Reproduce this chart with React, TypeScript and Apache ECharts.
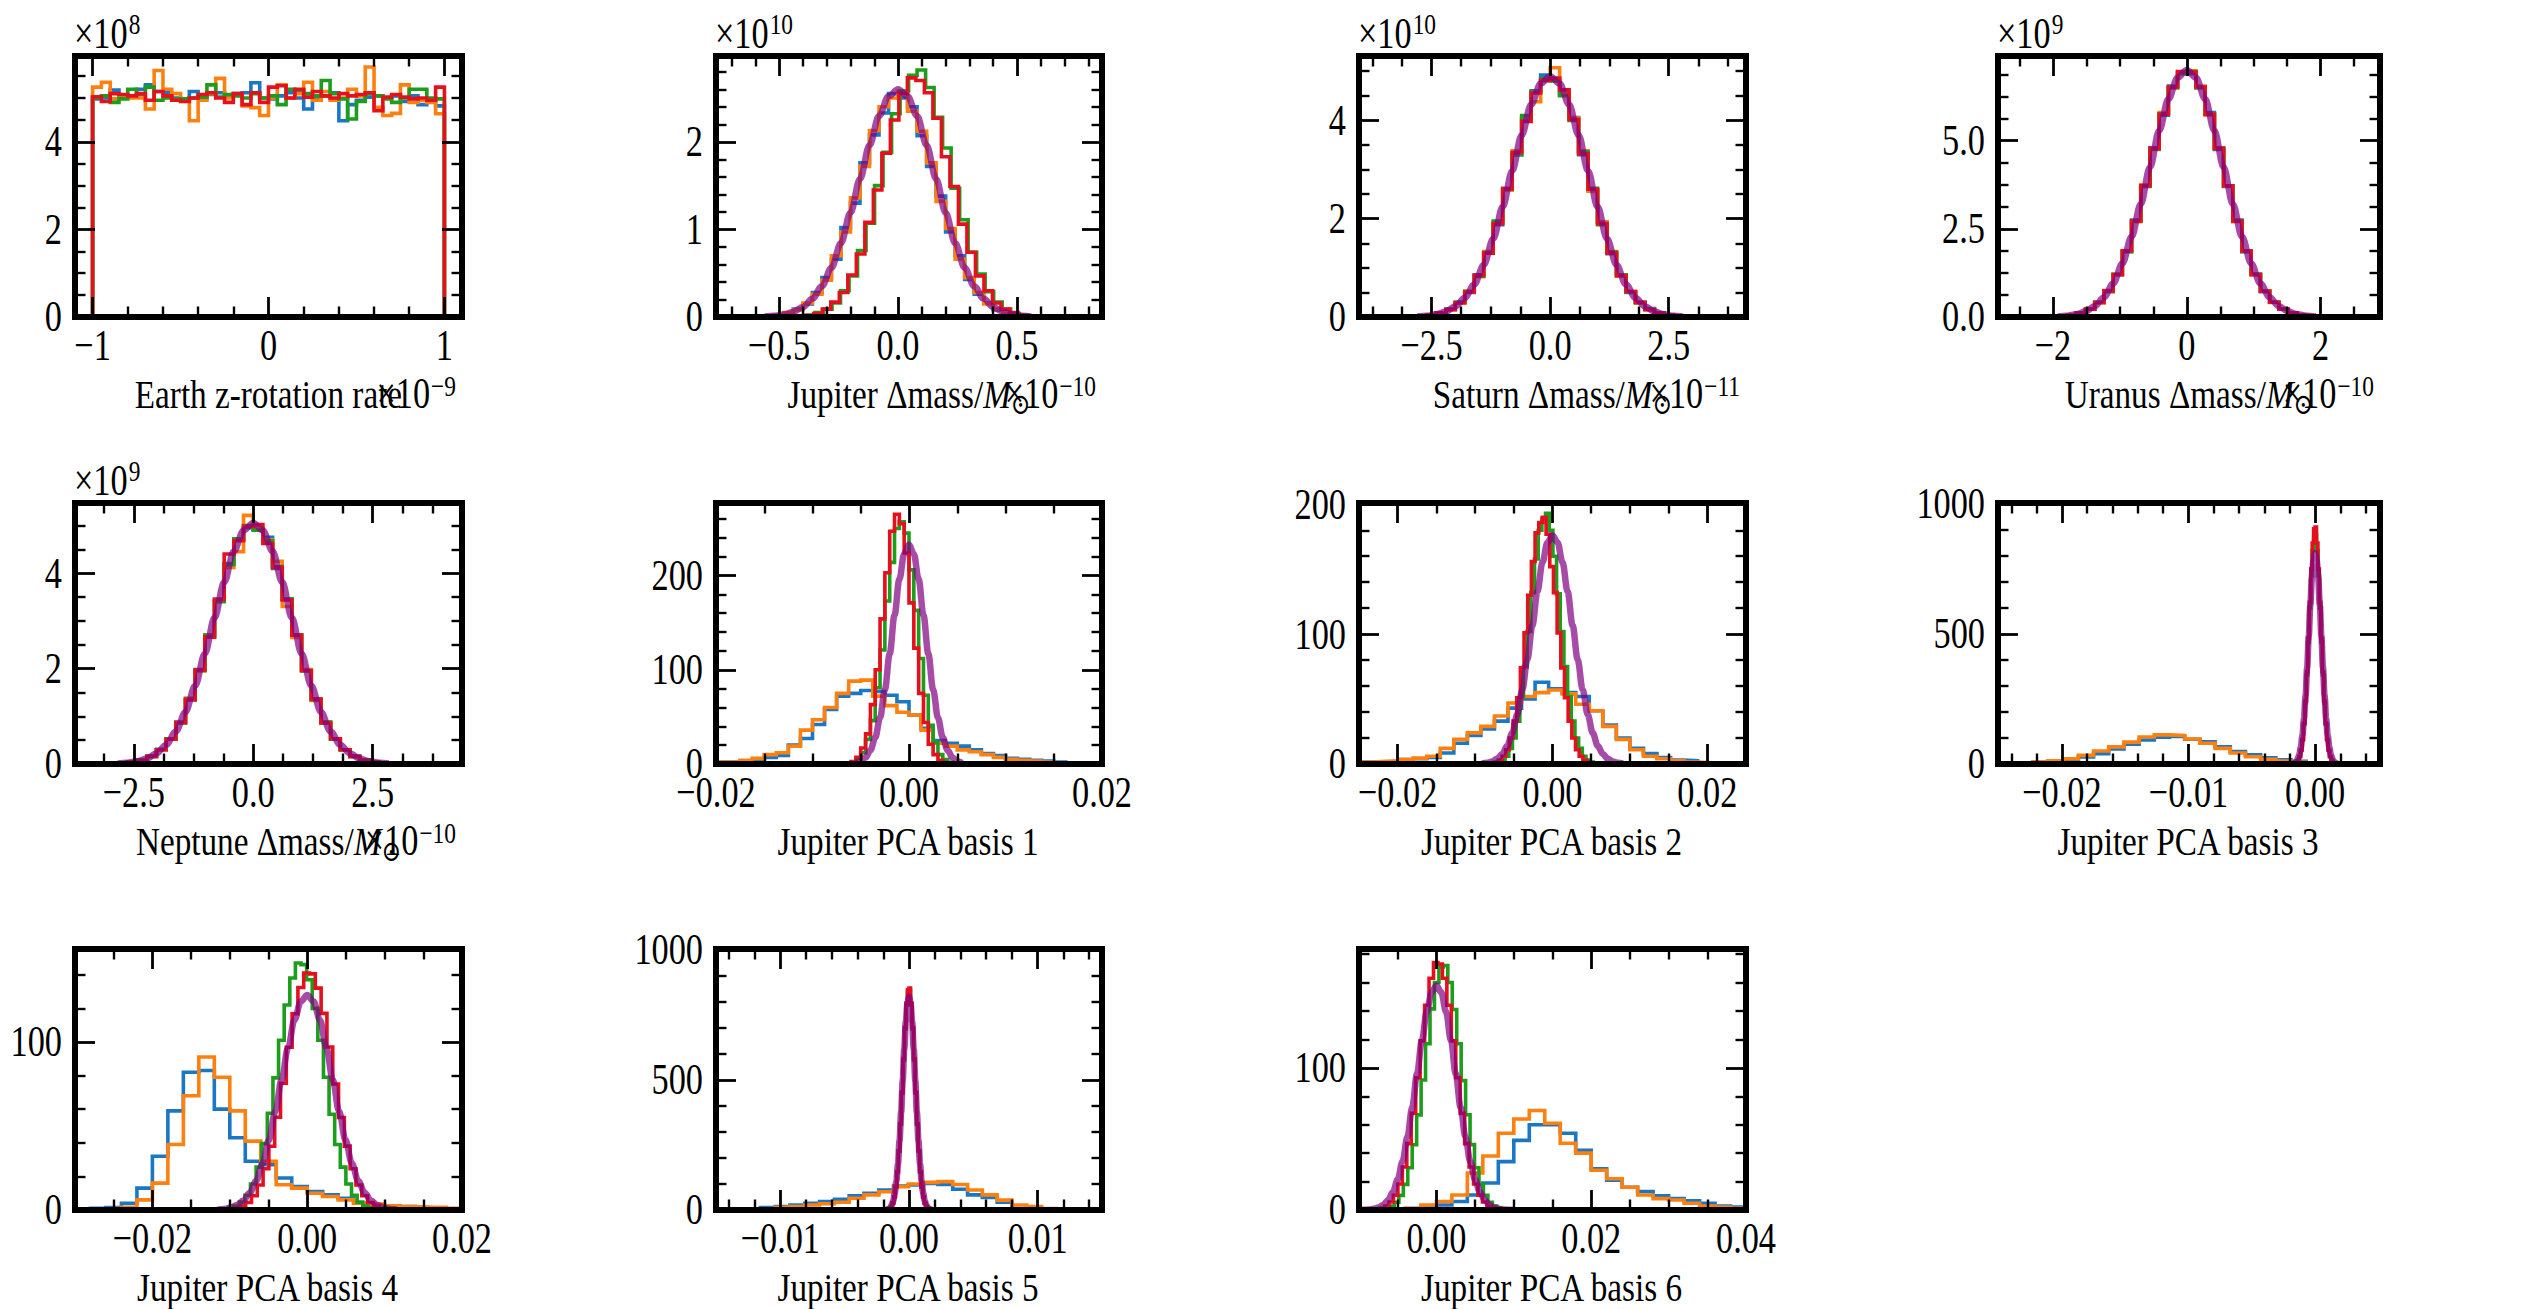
import React, { useEffect, useRef } from 'react';
import * as echarts from 'echarts';

// ---------------- DATA ----------------
// Bin starts / widths per series: [blue, orange, green, red]
// Panel 1: Earth z-rotation rate (x in 1e-9, y in 1e8)
const P1_START = [-1, -1, -1, -1];
const P1_BINW = [0.05, 0.05, 0.05, 0.05];
const P1_BLUE = [4.98,5.0,5.18,5.05,5.02,5.2,5.3,5.15,5.12,5.0,4.98,5.15,5.0,5.08,5.12,5.05,5.1,5.12,5.35,5.0,4.98,5.05,5.12,5.0,4.75,5.02,5.05,5.12,4.48,4.85,4.95,5.02,5.05,5.0,5.05,4.92,5.05,4.85,4.95,4.82];
const P1_ORANGE = [5.25,5.36,4.98,5.05,5.0,5.0,4.75,5.63,5.2,5.1,4.98,4.48,4.95,5.1,5.45,5.0,5.08,4.82,4.78,4.6,5.0,5.3,5.0,5.1,5.36,4.95,5.15,4.95,5.0,5.2,5.05,5.71,4.79,4.6,4.65,5.3,4.9,4.95,4.9,4.64];
const P1_GREEN = [5.0,5.05,4.9,4.98,5.2,5.08,5.25,4.95,5.0,4.98,4.98,5.0,5.02,5.3,5.02,5.08,5.05,5.0,5.1,5.0,5.05,4.85,5.2,5.18,5.1,5.05,5.4,5.1,4.98,4.52,4.92,5.1,5.05,4.98,4.9,5.0,5.2,5.2,5.0,4.98];
const P1_RED = [5.03,4.92,5.1,5.08,5.05,5.1,4.95,5.15,5.05,4.95,4.92,5.0,5.08,5.12,5.0,4.9,5.1,4.85,5.12,4.9,5.25,5.28,5.0,5.2,5.02,5.15,5.05,5.0,5.1,5.05,5.08,5.12,4.71,5.02,5.08,5.02,4.98,5.0,4.95,5.25];

// Panel 2: Jupiter Δmass (x 1e-10, y 1e10)
const P2_START = [-0.56, -0.56, -0.4205, -0.4255];
const P2_BINW = [0.04, 0.04, 0.03575, 0.03575];
const P2_BLUE = [0.01,0.02,0.04,0.09,0.15,0.28,0.45,0.66,1.02,1.30,1.76,2.08,2.33,2.55,2.50,2.40,2.07,1.72,1.38,0.97,0.70,0.43,0.26,0.16,0.08,0.04,0.02,0.01];
const P2_ORANGE = [0.01,0.02,0.05,0.08,0.16,0.26,0.42,0.70,0.97,1.36,1.72,2.13,2.40,2.50,2.58,2.35,2.12,1.76,1.32,1.01,0.66,0.45,0.28,0.15,0.09,0.04,0.02,0.01];
const P2_GREEN = [0.01,0.02,0.05,0.09,0.16,0.30,0.47,0.76,1.07,1.50,1.88,2.32,2.58,2.76,2.82,2.62,2.28,1.93,1.47,1.11,0.74,0.49,0.29,0.17,0.09,0.04,0.02,0.01];
const P2_RED = [0.01,0.02,0.04,0.09,0.17,0.28,0.48,0.72,1.08,1.45,1.87,2.25,2.55,2.73,2.70,2.56,2.27,1.83,1.49,1.06,0.74,0.47,0.30,0.16,0.09,0.05,0.02,0.01];
const P2_FIT_X = [-0.56, 0.04];
const P2_FIT = [0.0057,0.0133,0.0289,0.0593,0.114,0.207,0.352,0.562,0.844,1.19,1.577,1.962,2.295,2.52,2.6,2.52,2.295,1.962,1.577,1.19,0.844,0.562,0.352,0.207,0.114,0.0593,0.0289,0.0133,0.0057];

// Panel 3: Saturn Δmass (x 1e-11, y 1e10)
const P3_START = [-2.8, -2.8, -2.8, -2.8];
const P3_BINW = [0.2, 0.2, 0.2, 0.2];
const P3_BLUE = [0.02,0.04,0.07,0.16,0.30,0.50,0.86,1.30,1.88,2.62,3.30,4.05,4.60,4.92,4.85,4.52,4.06,3.30,2.58,1.93,1.29,0.86,0.50,0.30,0.17,0.08,0.04,0.02];
const P3_ORANGE = [0.02,0.03,0.08,0.15,0.28,0.53,0.82,1.33,1.93,2.58,3.38,4.08,4.38,4.80,5.07,4.55,4.05,3.38,2.56,1.93,1.33,0.83,0.52,0.28,0.15,0.08,0.04,0.02];
const P3_GREEN = [0.02,0.04,0.08,0.16,0.30,0.52,0.83,1.31,1.95,2.60,3.30,4.10,4.58,4.85,4.80,4.50,4.00,3.36,2.62,1.88,1.32,0.86,0.51,0.29,0.16,0.08,0.04,0.02];
const P3_RED = [0.02,0.04,0.08,0.15,0.29,0.51,0.85,1.30,1.90,2.61,3.35,3.98,4.56,4.82,4.86,4.62,4.02,3.32,2.60,1.90,1.30,0.84,0.52,0.30,0.15,0.08,0.04,0.02];
const P3_FIT_X = [-2.8, 0.2];
const P3_FIT = [0.011,0.025,0.054,0.112,0.215,0.39,0.663,1.06,1.591,2.243,2.972,3.699,4.324,4.749,4.9,4.749,4.324,3.699,2.972,2.243,1.591,1.06,0.663,0.39,0.215,0.112,0.054,0.025,0.011];

// Panel 4: Uranus Δmass (x 1e-10, y 1e9)
const P4_START = [-1.925, -1.925, -1.925, -1.925];
const P4_BINW = [0.1375, 0.1375, 0.1375, 0.1375];
const P4_BLUE = [0.02,0.05,0.11,0.22,0.42,0.75,1.20,1.85,2.75,3.70,4.80,5.72,6.55,6.95,6.90,6.50,5.80,4.75,3.70,2.75,1.85,1.22,0.72,0.42,0.23,0.11,0.05,0.02];
const P4_ORANGE = [0.02,0.06,0.11,0.23,0.40,0.73,1.22,1.88,2.70,3.75,4.75,5.80,6.50,6.92,6.98,6.55,5.72,4.80,3.72,2.70,1.88,1.20,0.74,0.41,0.22,0.11,0.05,0.02];
const P4_GREEN = [0.03,0.05,0.12,0.22,0.42,0.72,1.21,1.86,2.72,3.72,4.76,5.76,6.50,6.90,6.96,6.50,5.76,4.78,3.72,2.72,1.86,1.21,0.73,0.42,0.22,0.11,0.05,0.03];
const P4_RED = [0.02,0.05,0.11,0.22,0.41,0.74,1.20,1.88,2.72,3.72,4.78,5.75,6.52,6.96,6.94,6.52,5.75,4.78,3.72,2.72,1.87,1.20,0.73,0.42,0.22,0.11,0.05,0.02];
const P4_FIT_X = [-1.925, 0.1375];
const P4_FIT = [0.015,0.036,0.078,0.16,0.307,0.557,0.947,1.514,2.273,3.205,4.246,5.284,6.178,6.784,7.0,6.784,6.178,5.284,4.246,3.205,2.273,1.514,0.947,0.557,0.307,0.16,0.078,0.036,0.015];

// Panel 5: Neptune Δmass (x 1e-10, y 1e9)
const P5_START = [-2.835, -2.835, -2.835, -2.835];
const P5_BINW = [0.2025, 0.2025, 0.2025, 0.2025];
const P5_BLUE = [0.02,0.04,0.08,0.16,0.30,0.52,0.88,1.34,1.98,2.66,3.45,4.20,4.70,4.95,4.92,4.75,4.10,3.45,2.70,1.96,1.36,0.86,0.52,0.30,0.16,0.08,0.04,0.02];
const P5_ORANGE = [0.02,0.04,0.08,0.17,0.30,0.53,0.86,1.38,1.95,2.70,3.42,4.12,4.45,5.21,4.95,4.70,4.25,3.30,2.65,1.98,1.33,0.88,0.53,0.30,0.16,0.08,0.04,0.02];
const P5_GREEN = [0.02,0.04,0.08,0.16,0.31,0.53,0.86,1.36,1.96,2.70,3.40,4.18,4.72,5.00,4.90,4.68,4.14,3.46,2.70,1.95,1.35,0.88,0.52,0.30,0.16,0.08,0.04,0.02];
const P5_RED = [0.02,0.04,0.08,0.16,0.30,0.52,0.87,1.35,1.97,2.66,3.45,4.40,4.68,4.98,5.02,4.62,4.12,3.44,2.70,1.96,1.36,0.86,0.53,0.30,0.16,0.08,0.04,0.02];
const P5_FIT_X = [-2.835, 0.2025];
const P5_FIT = [0.011,0.026,0.056,0.115,0.222,0.402,0.683,1.092,1.64,2.312,3.063,3.812,4.457,4.894,5.05,4.894,4.457,3.812,3.063,2.312,1.64,1.092,0.683,0.402,0.222,0.115,0.056,0.026,0.011];

// Panel 6: Jupiter PCA basis 1
const P6_START = [-0.02, -0.02, -0.0065, -0.0065];
const P6_BINW = [0.00125, 0.00125, 0.0005, 0.0005];
const P6_BLUE = [2,2,3,4,7,9,20,27,42,58,72,75,78,77,73,66,52,38,25,22,19,15,11,9,6,5,4,3,2,1];
const P6_ORANGE = [2,2,4,6,10,12,19,36,47,60,75,88,89,72,62,55,52,36,22,19,15,13,10,7,5,4,3,2,1,1];
const P6_GREEN = [0.8,2.3,5.5,12,26,46,81,121,173,214,250,257,245,206,163,112,73,41,23,10,4.6,1.8];
const P6_RED = [0.9,2.7,7,17,32,63,100,154,203,247,265,255,224,171,123,75,44,21,10,4,1.6,0.6];
const P6_FIT_X = [-0.0055, 0.0005];
const P6_FIT = [1.2,3,7,14.6,28,49,79,117,158,196,223,233,223,196,158,117,79,49,28,14.6,7,3,1.2];

// Panel 7: Jupiter PCA basis 2
const P7_START = [-0.025, -0.025, -0.00755, -0.00795];
const P7_BINW = [0.00175, 0.00175, 0.000475, 0.000475];
const P7_BLUE = [1.5,1.5,2,3.4,4,5,8.5,16,22,27,33,43,50,63,58,55,52,41,30,20,12,8,5,3,2.5,1];
const P7_ORANGE = [1.5,2,2.5,3.4,4.5,6,12,19,24,29,37,47,52,55,57,54,46,41,29,19,11,6,4,2.6,1.5,1];
const P7_GREEN = [0.7,1.5,3,6,12,20,33,52,75,102,132,158,180,189,193,180,160,131,102,75,52,33,20,12,6,3,1.5,0.7];
const P7_RED = [0.6,1.5,3,6,11,20,33,51,74,101,130,156,178,186,190,177,152,132,101,74,51,33,20,11,6,3,1.4,0.6];
const P7_FIT_X = [-0.0091, 0.00065];
const P7_FIT = [0.39,0.9,1.95,4.01,7.73,14.0,23.8,38.1,57.1,80.6,106.7,132.8,155.3,170.6,176,170.6,155.3,132.8,106.7,80.6,57.1,38.1,23.8,14.0,7.73,4.01,1.95,0.9,0.39];

// Panel 8: Jupiter PCA basis 3
const P8_START = [-0.0235, -0.0235, -0.001645, -0.001575];
const P8_BINW = [0.0012, 0.0012, 0.0001175, 0.0001125];
const P8_BLUE = [3,6,10,15,27,40,58,76,92,103,106,95,85,66,48,35,24,16,10,5];
const P8_ORANGE = [4,8,12,20,33,50,66,84,104,112,110,96,80,60,42,28,18,11,7,4];
const P8_GREEN = [3,6.7,14.1,28.1,52.4,92,152,235,342,467,600,724,820,873,880,820,724,600,467,342,235,152,92,52,28,14,6.7,3];
const P8_RED = [3.1,6.9,14.6,29.1,54.3,95.3,157,243,354,484,621,749,849,904,911,849,749,621,484,354,243,157,95,54,29,15,7,3];
const P8_FIT_X = [-0.00175, 0.000125];
const P8_FIT = [1.78,4.13,8.99,18.5,35.6,64.5,109.6,175.2,263,370.8,491.3,611.4,714.8,785.1,810,785.1,714.8,611.4,491.3,370.8,263,175.2,109.6,64.5,35.6,18.5,8.99,4.13,1.78];

// Panel 9: Jupiter PCA basis 4
const P9_START = [-0.03, -0.03, -0.01095, -0.0102];
const P9_BINW = [0.002, 0.002, 0.000725, 0.00075];
const P9_BLUE = [0.5,1,1.5,4,13,32,59,82,83,60,43,29,27,19,14,11,9,7,4,3,2,2,1.5,0.5,0.2];
const P9_ORANGE = [0.3,0.6,1,1.6,6,16,39,68,91,79,59,41,29,15,13,10,8,6,4,3.5,2.5,2,1.6,1.6,1];
const P9_GREEN = [0.5,1.1,2.4,4.7,8.8,15.5,25.5,39.5,57.6,78.6,101,122,138,147,146,137,120,101,79,57,39,25.5,15.5,8.8,4.7,2.4,1.1,0.5];
const P9_RED = [0.5,1.1,2.3,4.5,8.5,14.9,24.5,37.9,55.2,75.4,96.8,116.8,132.4,141,140.5,132,117,97,75,55,38,24.5,14.9,8.5,4.5,2.3,1.1,0.5];
const P9_FIT_X = [-0.01155, 0.000825];
const P9_FIT = [0.28,0.65,1.42,2.92,5.62,10.2,17.3,27.7,41.6,58.6,77.6,96.6,113,124.1,128,124.1,113,96.6,77.6,58.6,41.6,27.7,17.3,10.2,5.62,2.92,1.42,0.65,0.28];

// Panel 10: Jupiter PCA basis 5
const P10_START = [-0.015, -0.015, -0.00168, -0.001645];
const P10_BINW = [0.00115, 0.00115, 0.00012, 0.0001175];
const P10_BLUE = [1,2,4,9,13,19,26,32,41,55,64,77,92,96,102,98,80,58,48,30,6,4,3,2];
const P10_ORANGE = [1,2,4,6,10,13,19,24,30,45,58,70,90,100,106,109,98,77,58,38,19,13,6,3];
const P10_GREEN = [2.9,6.4,13.5,27,50.4,88.4,146,226,329,449,576,695,788,838,845,788,695,576,449,329,226,146,88,50,27,13.5,6.4,2.9];
const P10_RED = [2.9,6.5,13.6,27.2,50.8,89.2,147,228,332,453,582,702,795,846,853,795,702,582,453,332,228,147,89,51,27,14,6.5,2.9];
const P10_FIT_X = [-0.001715, 0.0001225];
const P10_FIT = [1.8,4.18,9.1,18.7,36,65.3,110.9,177.4,266.3,375.4,497.3,618.9,723.7,794.7,820,794.7,723.7,618.9,497.3,375.4,266.3,177.4,110.9,65.3,36,18.7,9.1,4.18,1.8];

// Panel 11: Jupiter PCA basis 6
const P11_START = [-0.006, -0.006, -0.00715, -0.00785];
const P11_BINW = [0.002, 0.002, 0.000575, 0.000575];
const P11_BLUE = [0.5,1,2.3,3.5,6,10.5,19,34,49,60,60,54,42,29,21,16,13,10,8,6.5,4.7,2.8,2];
const P11_ORANGE = [0.5,1.2,3.5,6,10.5,26,38,54,64,70,61,47,40,28,22,16,10.5,8,7,4.7,2.8,2,1.2];
const P11_GREEN = [0.6,1.3,2.8,5.5,10.3,18,29.7,45.9,66.9,91.4,117,141.5,160,171,172,160,141,117,91,67,46,29.7,18,10.3,5.5,2.8,1.3,0.6];
const P11_RED = [0.6,1.3,2.8,5.6,10.4,18.3,30.2,46.7,68.1,93,119,144,163,174,173,163,144,119,93,68,46.7,30.2,18.3,10.4,5.6,2.8,1.3,0.6];
const P11_FIT_X = [-0.01, 0.000625];
const P11_FIT = [0.053,0.139,0.348,0.806,1.754,3.6,6.94,12.58,21.38,34.18,51.3,72.3,95.8,119.3,139.4,153.1,158,153.1,139.4,119.3,95.8,72.3,51.3,34.18,21.38,12.58,6.94,3.6,1.754,0.806,0.348,0.139,0.053];

// Tick values and tick labels
const P1_XTICKS = [-1, 0, 1]; const P1_XTICK_LABELS = ['−1', '0', '1'];
const P1_YTICKS = [0, 2, 4]; const P1_YTICK_LABELS = ['0', '2', '4'];
const P2_XTICKS = [-0.5, 0, 0.5]; const P2_XTICK_LABELS = ['−0.5', '0.0', '0.5'];
const P2_YTICKS = [0, 1, 2]; const P2_YTICK_LABELS = ['0', '1', '2'];
const P3_XTICKS = [-2.5, 0, 2.5]; const P3_XTICK_LABELS = ['−2.5', '0.0', '2.5'];
const P3_YTICKS = [0, 2, 4]; const P3_YTICK_LABELS = ['0', '2', '4'];
const P4_XTICKS = [-2, 0, 2]; const P4_XTICK_LABELS = ['−2', '0', '2'];
const P4_YTICKS = [0, 2.5, 5]; const P4_YTICK_LABELS = ['0.0', '2.5', '5.0'];
const P5_XTICKS = [-2.5, 0, 2.5]; const P5_XTICK_LABELS = ['−2.5', '0.0', '2.5'];
const P5_YTICKS = [0, 2, 4]; const P5_YTICK_LABELS = ['0', '2', '4'];
const P6_XTICKS = [-0.02, 0, 0.02]; const P6_XTICK_LABELS = ['−0.02', '0.00', '0.02'];
const P6_YTICKS = [0, 100, 200]; const P6_YTICK_LABELS = ['0', '100', '200'];
const P7_XTICKS = [-0.02, 0, 0.02]; const P7_XTICK_LABELS = ['−0.02', '0.00', '0.02'];
const P7_YTICKS = [0, 100, 200]; const P7_YTICK_LABELS = ['0', '100', '200'];
const P8_XTICKS = [-0.02, -0.01, 0]; const P8_XTICK_LABELS = ['−0.02', '−0.01', '0.00'];
const P8_YTICKS = [0, 500, 1000]; const P8_YTICK_LABELS = ['0', '500', '1000'];
const P9_XTICKS = [-0.02, 0, 0.02]; const P9_XTICK_LABELS = ['−0.02', '0.00', '0.02'];
const P9_YTICKS = [0, 100]; const P9_YTICK_LABELS = ['0', '100'];
const P10_XTICKS = [-0.01, 0, 0.01]; const P10_XTICK_LABELS = ['−0.01', '0.00', '0.01'];
const P10_YTICKS = [0, 500, 1000]; const P10_YTICK_LABELS = ['0', '500', '1000'];
const P11_XTICKS = [0, 0.02, 0.04]; const P11_XTICK_LABELS = ['0.00', '0.02', '0.04'];
const P11_YTICKS = [0, 100]; const P11_YTICK_LABELS = ['0', '100'];

// Axis labels (parts: regular, italic, subscript)
const P1_XLABEL = ['Earth z-rotation rate'];
const P2_XLABEL = ['Jupiter Δmass/', 'M', '⊙'];
const P3_XLABEL = ['Saturn Δmass/', 'M', '⊙'];
const P4_XLABEL = ['Uranus Δmass/', 'M', '⊙'];
const P5_XLABEL = ['Neptune Δmass/', 'M', '⊙'];
const P6_XLABEL = ['Jupiter PCA basis 1'];
const P7_XLABEL = ['Jupiter PCA basis 2'];
const P8_XLABEL = ['Jupiter PCA basis 3'];
const P9_XLABEL = ['Jupiter PCA basis 4'];
const P10_XLABEL = ['Jupiter PCA basis 5'];
const P11_XLABEL = ['Jupiter PCA basis 6'];

// Axis ranges: [min, max, major, minorSplit]
const P1_XR = [-1.1, 1.1, 1, 5]; const P1_YR = [0, 5.96, 2, 4];
const P2_XR = [-0.765, 0.857, 0.5, 5]; const P2_YR = [0, 2.98, 1, 5];
const P3_XR = [-4.03, 4.13, 2.5, 4]; const P3_YR = [0, 5.31, 2, 4];
const P4_XR = [-2.82, 2.886, 2, 4]; const P4_YR = [0, 7.4, 2.5, 4];
const P5_XR = [-3.73, 4.37, 2.5, 4]; const P5_YR = [0, 5.47, 2, 4];
const P6_XR = [-0.02, 0.02, 0.02, 4]; const P6_YR = [0, 277, 100, 5];
const P7_XR = [-0.025, 0.025, 0.02, 4]; const P7_YR = [0, 201, 100, 5];
const P8_XR = [-0.02505, 0.00513, 0.01, 5]; const P8_YR = [0, 1003, 500, 5];
const P9_XR = [-0.03, 0.02, 0.02, 4]; const P9_YR = [0, 155.3, 100, 5];
const P10_XR = [-0.015, 0.015, 0.01, 5]; const P10_YR = [0, 1003, 500, 5];
const P11_XR = [-0.01, 0.04, 0.02, 4]; const P11_YR = [0, 183.6, 100, 5];

// ---------------- PANEL TABLE ----------------
const PANELS: any[] = [
  { xr: P1_XR, yr: P1_YR, xt: P1_XTICKS, xtl: P1_XTICK_LABELS, yt: P1_YTICKS, ytl: P1_YTICK_LABELS, label: P1_XLABEL, yExp: '8', xExp: '−9', starts: P1_START, widths: P1_BINW, hists: [P1_BLUE, P1_ORANGE, P1_GREEN, P1_RED], fitX: null, fit: null },
  { xr: P2_XR, yr: P2_YR, xt: P2_XTICKS, xtl: P2_XTICK_LABELS, yt: P2_YTICKS, ytl: P2_YTICK_LABELS, label: P2_XLABEL, yExp: '10', xExp: '−10', starts: P2_START, widths: P2_BINW, hists: [P2_BLUE, P2_ORANGE, P2_GREEN, P2_RED], fitX: P2_FIT_X, fit: P2_FIT },
  { xr: P3_XR, yr: P3_YR, xt: P3_XTICKS, xtl: P3_XTICK_LABELS, yt: P3_YTICKS, ytl: P3_YTICK_LABELS, label: P3_XLABEL, yExp: '10', xExp: '−11', starts: P3_START, widths: P3_BINW, hists: [P3_BLUE, P3_ORANGE, P3_GREEN, P3_RED], fitX: P3_FIT_X, fit: P3_FIT },
  { xr: P4_XR, yr: P4_YR, xt: P4_XTICKS, xtl: P4_XTICK_LABELS, yt: P4_YTICKS, ytl: P4_YTICK_LABELS, label: P4_XLABEL, yExp: '9', xExp: '−10', starts: P4_START, widths: P4_BINW, hists: [P4_BLUE, P4_ORANGE, P4_GREEN, P4_RED], fitX: P4_FIT_X, fit: P4_FIT },
  { xr: P5_XR, yr: P5_YR, xt: P5_XTICKS, xtl: P5_XTICK_LABELS, yt: P5_YTICKS, ytl: P5_YTICK_LABELS, label: P5_XLABEL, yExp: '9', xExp: '−10', starts: P5_START, widths: P5_BINW, hists: [P5_BLUE, P5_ORANGE, P5_GREEN, P5_RED], fitX: P5_FIT_X, fit: P5_FIT },
  { xr: P6_XR, yr: P6_YR, xt: P6_XTICKS, xtl: P6_XTICK_LABELS, yt: P6_YTICKS, ytl: P6_YTICK_LABELS, label: P6_XLABEL, yExp: null, xExp: null, starts: P6_START, widths: P6_BINW, hists: [P6_BLUE, P6_ORANGE, P6_GREEN, P6_RED], fitX: P6_FIT_X, fit: P6_FIT },
  { xr: P7_XR, yr: P7_YR, xt: P7_XTICKS, xtl: P7_XTICK_LABELS, yt: P7_YTICKS, ytl: P7_YTICK_LABELS, label: P7_XLABEL, yExp: null, xExp: null, starts: P7_START, widths: P7_BINW, hists: [P7_BLUE, P7_ORANGE, P7_GREEN, P7_RED], fitX: P7_FIT_X, fit: P7_FIT },
  { xr: P8_XR, yr: P8_YR, xt: P8_XTICKS, xtl: P8_XTICK_LABELS, yt: P8_YTICKS, ytl: P8_YTICK_LABELS, label: P8_XLABEL, yExp: null, xExp: null, starts: P8_START, widths: P8_BINW, hists: [P8_BLUE, P8_ORANGE, P8_GREEN, P8_RED], fitX: P8_FIT_X, fit: P8_FIT },
  { xr: P9_XR, yr: P9_YR, xt: P9_XTICKS, xtl: P9_XTICK_LABELS, yt: P9_YTICKS, ytl: P9_YTICK_LABELS, label: P9_XLABEL, yExp: null, xExp: null, starts: P9_START, widths: P9_BINW, hists: [P9_BLUE, P9_ORANGE, P9_GREEN, P9_RED], fitX: P9_FIT_X, fit: P9_FIT },
  { xr: P10_XR, yr: P10_YR, xt: P10_XTICKS, xtl: P10_XTICK_LABELS, yt: P10_YTICKS, ytl: P10_YTICK_LABELS, label: P10_XLABEL, yExp: null, xExp: null, starts: P10_START, widths: P10_BINW, hists: [P10_BLUE, P10_ORANGE, P10_GREEN, P10_RED], fitX: P10_FIT_X, fit: P10_FIT },
  { xr: P11_XR, yr: P11_YR, xt: P11_XTICKS, xtl: P11_XTICK_LABELS, yt: P11_YTICKS, ytl: P11_YTICK_LABELS, label: P11_XLABEL, yExp: null, xExp: null, starts: P11_START, widths: P11_BINW, hists: [P11_BLUE, P11_ORANGE, P11_GREEN, P11_RED], fitX: P11_FIT_X, fit: P11_FIT },
];

// ---------------- LAYOUT / STYLE ----------------
const W = 2528;
const H = 1309;
const COL_LEFT = [75, 716, 1359, 1998];
const COL_W = [387, 386, 387, 382];
const ROW_TOP = [56, 503, 949];
const ROW_H = 261;
const FONT = '"Liberation Serif", "Times New Roman", "DejaVu Serif", serif';
const TICK_SIZE = 44;
const TICK_SX = 0.78;
const LABEL_SIZE = 41;
const LABEL_SX = 0.81;
const HIST_COLORS = ['#1a77c4', '#ff800e', '#1c9e1c', '#e5101e'];
const FIT_COLOR = '#800080';

function geom(i: number) {
  const r = Math.floor(i / 4);
  const c = i % 4;
  return { left: COL_LEFT[c], top: ROW_TOP[r], width: COL_W[c], height: ROW_H };
}

function stepPoints(start: number, width: number, values: number[]) {
  const pts: number[][] = [[start, 0]];
  values.forEach((v, i) => {
    pts.push([start + i * width, v]);
    pts.push([start + (i + 1) * width, v]);
  });
  pts.push([start + values.length * width, 0]);
  return pts;
}

function curvePoints(x0: number, dx: number, values: number[]) {
  return values.map((v, i) => [x0 + i * dx, v]);
}

function makeAxis(gridIndex: number, position: string, r: number[]) {
  return {
    type: 'value',
    gridIndex,
    position,
    min: r[0],
    max: r[1],
    minInterval: r[2],
    maxInterval: r[2],
    splitNumber: Math.max(1, Math.round((r[1] - r[0]) / r[2])),
    z: 10,
    axisLine: { show: true, onZero: false, lineStyle: { color: '#000', width: 6, cap: 'square' } },
    axisTick: { show: true, inside: true, length: 20, lineStyle: { color: '#000', width: 2.8 } },
    minorTick: { show: true, splitNumber: r[3], length: 10.5, lineStyle: { color: '#000', width: 2.4 } },
    axisLabel: { show: false },
    splitLine: { show: false },
    minorSplitLine: { show: false },
    axisPointer: { show: false },
  };
}

function buildOption() {
  const grid: any[] = [];
  const xAxis: any[] = [];
  const yAxis: any[] = [];
  const series: any[] = [];
  PANELS.forEach((p, i) => {
    const g = geom(i);
    grid.push({ left: g.left, top: g.top, width: g.width, height: g.height, containLabel: false, outerBoundsMode: 'none', show: false });
    xAxis.push(makeAxis(i, 'bottom', p.xr));
    xAxis.push(makeAxis(i, 'top', p.xr));
    yAxis.push(makeAxis(i, 'left', p.yr));
    yAxis.push(makeAxis(i, 'right', p.yr));
    p.hists.forEach((vals: number[], k: number) => {
      series.push({
        type: 'line',
        xAxisIndex: 2 * i,
        yAxisIndex: 2 * i,
        data: stepPoints(p.starts[k], p.widths[k], vals),
        symbol: 'none',
        showSymbol: false,
        clip: true,
        silent: true,
        z: 2 + k,
        lineStyle: { color: HIST_COLORS[k], width: 3.6, join: 'miter' },
        itemStyle: { color: HIST_COLORS[k] },
      });
    });
    if (p.fit) {
      series.push({
        type: 'line',
        xAxisIndex: 2 * i,
        yAxisIndex: 2 * i,
        data: curvePoints(p.fitX[0], p.fitX[1], p.fit),
        symbol: 'none',
        showSymbol: false,
        smooth: 0.35,
        smoothMonotone: 'x',
        clip: true,
        silent: true,
        z: 7,
        lineStyle: { color: FIT_COLOR, width: 6.5, opacity: 0.7 },
        itemStyle: { color: FIT_COLOR },
      });
    }
  });
  return {
    animation: false,
    backgroundColor: '#ffffff',
    grid,
    xAxis,
    yAxis,
    series,
  };
}

let measureCtx: any = null;
function measure(text: string, size: number, italic = false) {
  if (!measureCtx) measureCtx = document.createElement('canvas').getContext('2d');
  measureCtx.font = `${italic ? 'italic ' : ''}${size}px ${FONT}`;
  return measureCtx.measureText(text).width;
}

function txt(text: string, x: number, y: number, size: number, align: string, sx: number, italic = false) {
  return {
    type: 'text',
    x,
    y,
    scaleX: sx,
    scaleY: 1,
    silent: true,
    z: 100,
    style: {
      text,
      font: `${italic ? 'italic ' : ''}${size}px ${FONT}`,
      fill: '#000',
      textAlign: align,
      align,
      textVerticalAlign: 'middle',
      verticalAlign: 'middle',
    },
  };
}

function buildGraphics(chart: any) {
  const els: any[] = [];
  PANELS.forEach((p, i) => {
    const g = geom(i);
    const bottom = g.top + g.height;
    p.xt.forEach((v: number, k: number) => {
      const x = chart.convertToPixel({ xAxisIndex: 2 * i }, v);
      els.push(txt(p.xtl[k], x, bottom + 29, TICK_SIZE, 'center', TICK_SX));
    });
    p.yt.forEach((v: number, k: number) => {
      const y = chart.convertToPixel({ yAxisIndex: 2 * i }, v);
      els.push(txt(p.ytl[k], g.left - 13, y, TICK_SIZE, 'right', TICK_SX));
    });
    // x label (with optional italic M and subscript sun)
    const specs = p.label.map((t: string, k: number) => ({
      t,
      size: k === 2 ? 29 : LABEL_SIZE,
      italic: k === 1,
      dy: k === 2 ? 10 : 0,
    }));
    const widths = specs.map((s: any) => measure(s.t, s.size, s.italic) * LABEL_SX);
    const total = widths.reduce((a: number, b: number) => a + b, 0);
    let x = g.left + g.width / 2 - total / 2;
    const ly = bottom + 77;
    specs.forEach((s: any, k: number) => {
      els.push(txt(s.t, x, ly + s.dy, s.size, 'left', LABEL_SX, s.italic));
      x += widths[k];
    });
    // offset texts
    if (p.yExp) {
      const w = measure('×10', TICK_SIZE) * TICK_SX;
      els.push(txt('×10', g.left - 1, g.top - 22, TICK_SIZE, 'left', TICK_SX));
      els.push(txt(p.yExp, g.left + w, g.top - 32, 30, 'left', TICK_SX));
    }
    if (p.xExp) {
      const R = g.left + g.width - 6;
      const ws = measure(p.xExp, 30) * TICK_SX;
      els.push(txt(p.xExp, R, bottom + 69, 30, 'right', TICK_SX));
      els.push(txt('×10', R - ws - 1, ly, TICK_SIZE, 'right', TICK_SX));
    }
  });
  return els;
}

export default function App() {
  const ref = useRef<HTMLDivElement>(null);
  useEffect(() => {
    if (!ref.current) return;
    const chart = echarts.init(ref.current, null, { renderer: 'svg', width: W, height: H });
    chart.setOption(buildOption() as any);
    chart.setOption({ graphic: { elements: buildGraphics(chart) } } as any);
    return () => {
      chart.dispose();
    };
  }, []);
  return (
    <div
      ref={ref}
      style={{ position: 'fixed', left: 0, top: 0, width: W, height: H, background: '#fff' }}
    />
  );
}
